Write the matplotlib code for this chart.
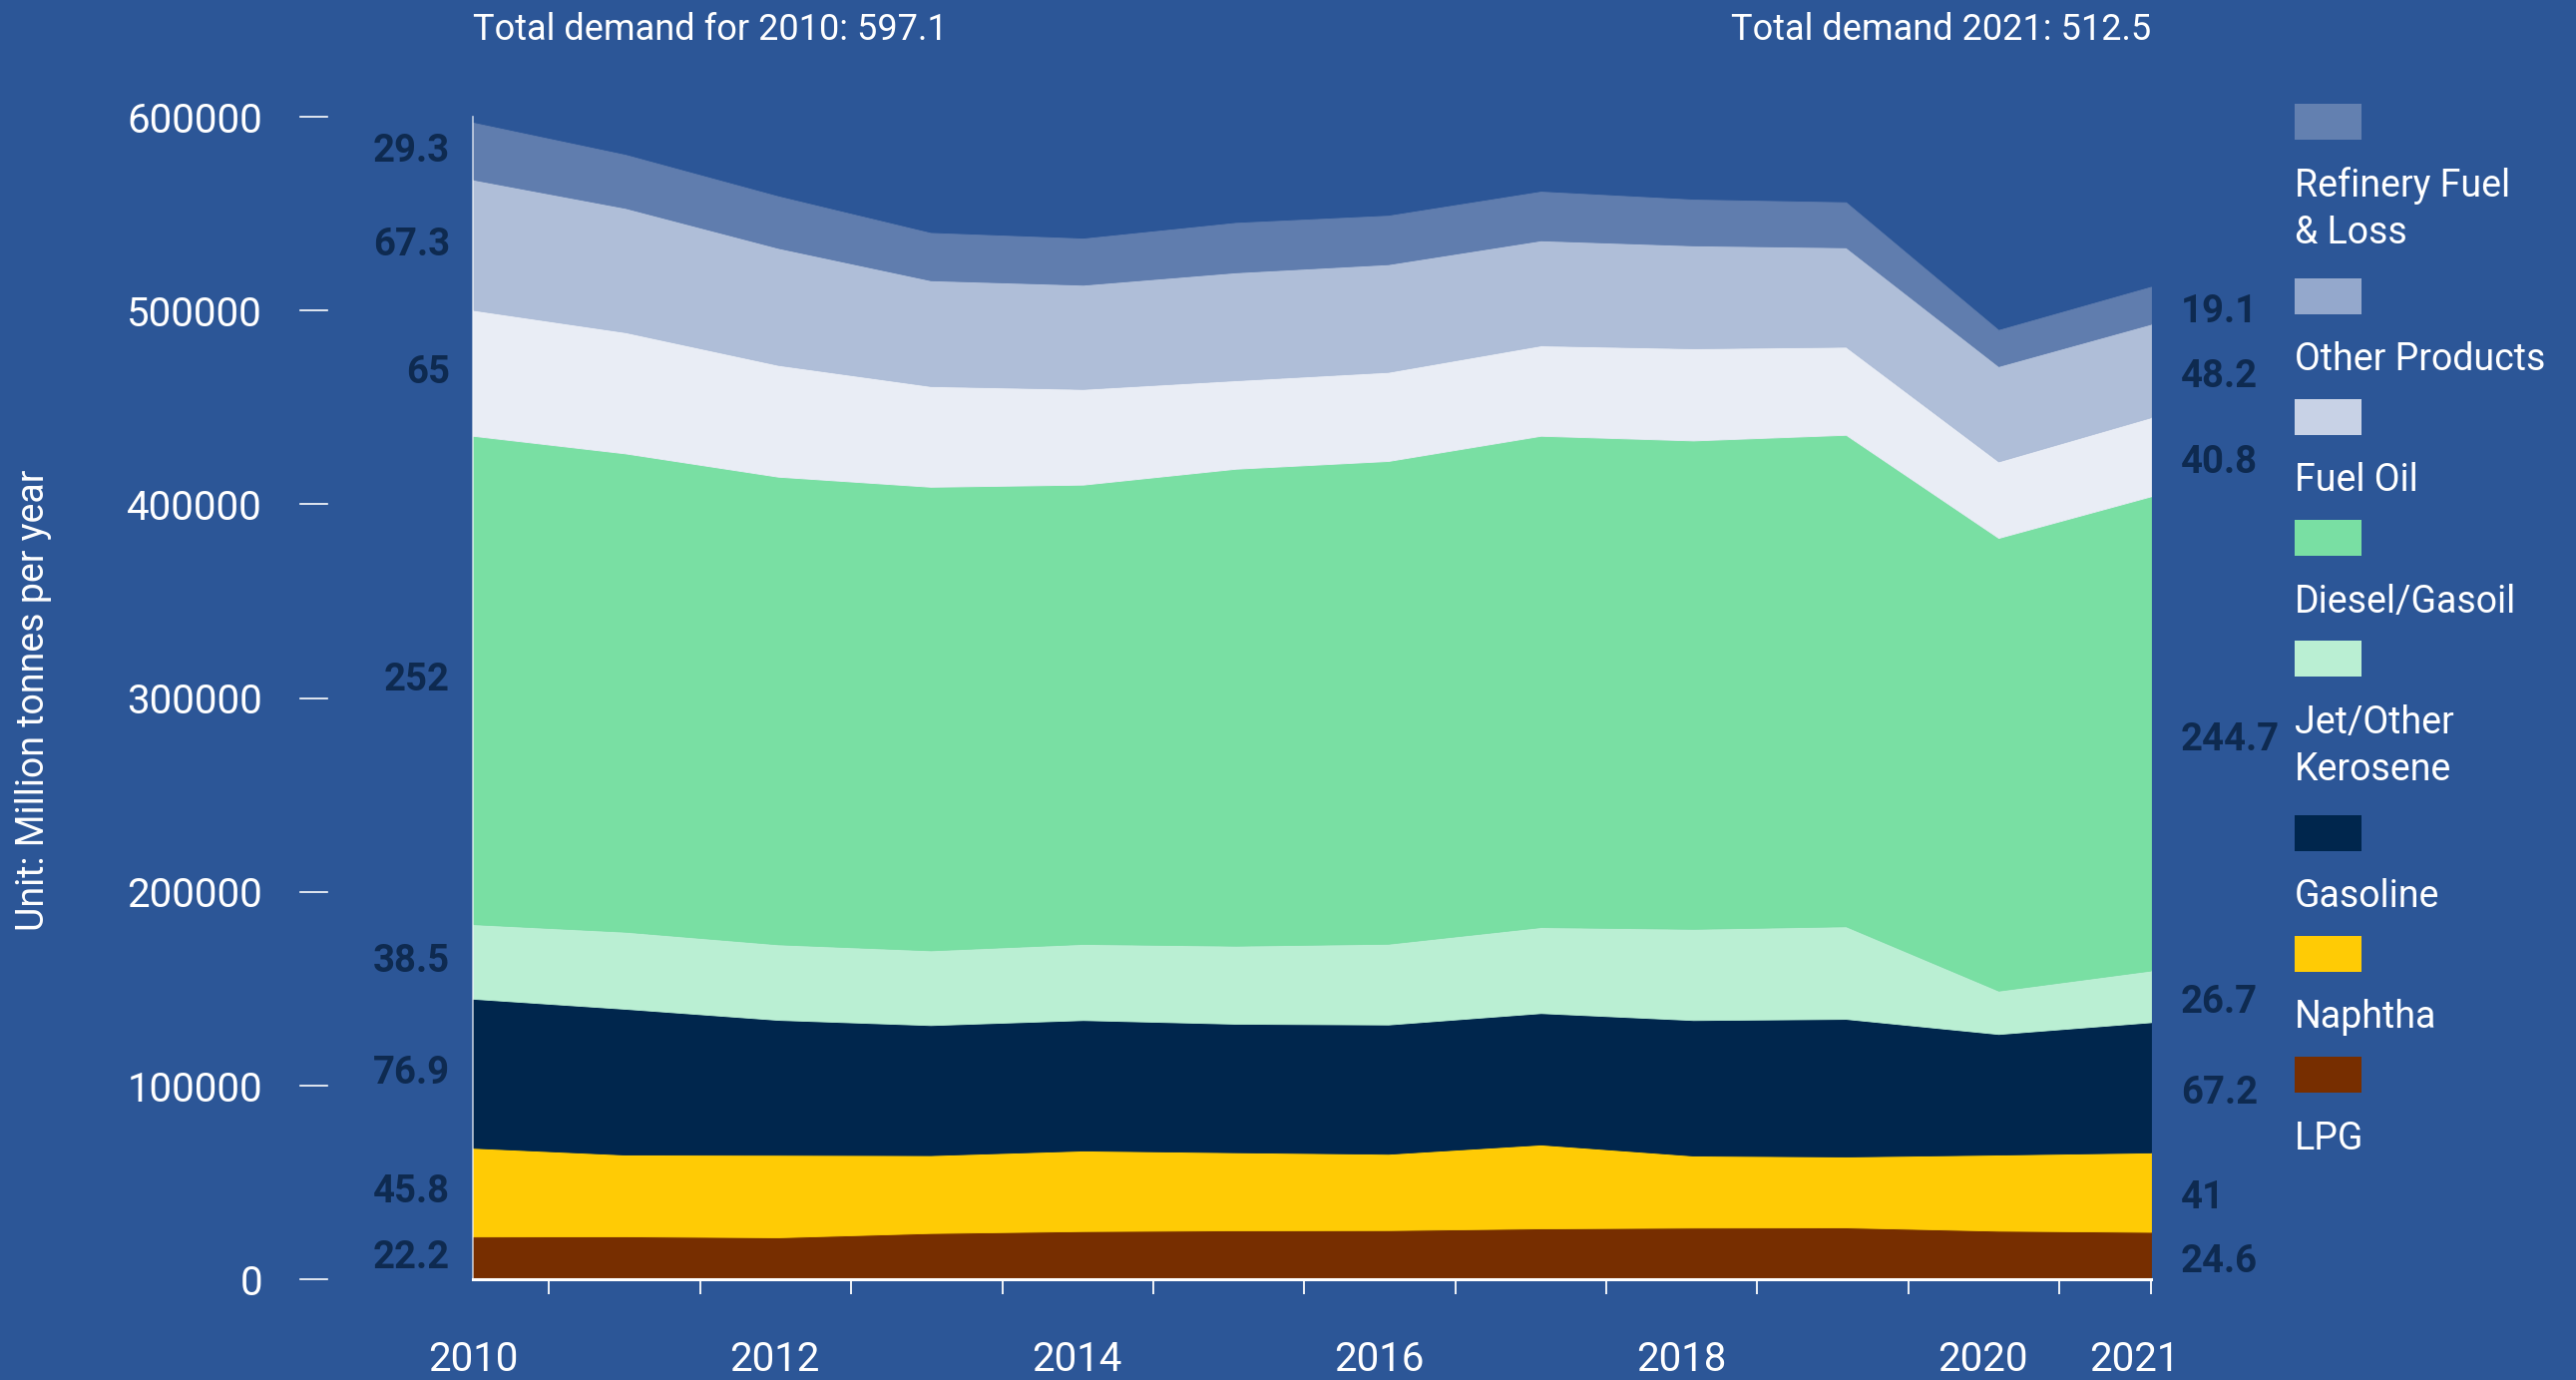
import numpy as np
import matplotlib
matplotlib.use("Agg")
import matplotlib.pyplot as plt
import matplotlib.patches as mpatches
import matplotlib.transforms as mtransforms

plt.rcParams["font.family"] = ["Roboto", "DejaVu Sans"]

# Demand per product, million tonnes
YEARS = [2010, 2011, 2012, 2013, 2014, 2015, 2016, 2017, 2018, 2019, 2020, 2021]
LPG = [22.2, 22.3, 21.8, 24.0, 25.0, 25.4, 25.5, 26.4, 26.8, 26.9, 25.2, 24.6]
NAPHTHA = [45.8, 42.2, 42.6, 40.2, 41.6, 40.3, 39.4, 43.3, 37.2, 36.6, 39.3, 41]
GASOLINE = [76.9, 75.2, 69.6, 67.1, 67.3, 66.3, 66.7, 67.8, 69.9, 71.0, 62.2, 67.2]
JET = [38.5, 39.8, 39.0, 38.6, 39.3, 40.3, 41.7, 44.4, 47.1, 47.8, 22.4, 26.7]
DIESEL = [252, 246.8, 241.3, 239.2, 237.0, 246.1, 249.1, 253.5, 252.0, 253.6, 233.6, 244.7]
FUEL_OIL = [65, 62.6, 57.7, 52.0, 49.4, 45.7, 46.0, 46.7, 47.6, 45.5, 39.5, 40.8]
OTHER = [67.3, 64.1, 60.4, 54.6, 53.8, 55.7, 55.6, 54.2, 53.1, 51.3, 49.2, 48.2]
REFINERY = [29.3, 27.4, 26.6, 24.4, 23.8, 25.5, 25.0, 25.1, 23.6, 23.2, 18.6, 19.1]

SERIES = [LPG, NAPHTHA, GASOLINE, JET, DIESEL, FUEL_OIL, OTHER, REFINERY]
NAMES = ["LPG", "Naphtha", "Gasoline", "Jet/Other\nKerosene", "Diesel/Gasoil",
         "Fuel Oil", "Other Products", "Refinery Fuel\n& Loss"]
COLORS = ["#772e00", "#ffcb05", "#00264d", "#baefd3", "#79dfa3",
          "#e9edf5", "#afbed8", "#607dae"]
LEGEND_COLORS = ["#772e00", "#ffcb05", "#00264d", "#baefd3", "#79dfa3",
                 "#c8d2e6", "#94a8cc", "#6380b0"]

TOTAL_2010 = "Total demand for 2010: 597.1"
TOTAL_2021 = "Total demand 2021: 512.5"
YTICKS = [0, 100000, 200000, 300000, 400000, 500000, 600000]
XLABELS = [2010, 2012, 2014, 2016, 2018, 2020, 2021]

BG = "#2c5697"
LABEL_COLOR = "#0e2a50"
W, H = 2582, 1383
TICK_STEP = 0.99  # the year axis below the chart runs a touch tighter than the data

fig = plt.figure(figsize=(W / 100, H / 100), dpi=100)
fig.patch.set_facecolor(BG)
ax = fig.add_axes([474 / W, 1 - 1282.3 / H, (2156 - 474) / W, (1282.3 - 117.1) / H])
ax.set_facecolor(BG)
ax.set_xlim(YEARS[0], YEARS[-1])
ax.set_ylim(0, 600000)

# stacked areas
bottom = np.zeros(len(YEARS))
mids_first, mids_last = [], []
for vals, c in zip(SERIES, COLORS):
    v = np.array(vals) * 1000
    ax.fill_between(YEARS, bottom, bottom + v, facecolor=c, edgecolor=c, lw=0.6, zorder=2)
    mids_first.append(bottom[0] + v[0] / 2)
    mids_last.append(bottom[-1] + v[-1] / 2)
    bottom = bottom + v

# value labels at both ends
for vals, m0, m1 in zip(SERIES, mids_first, mids_last):
    ax.annotate(f"{vals[0]:g}", xy=(YEARS[0], m0), xytext=(-16.5, 0),
                textcoords="offset points", ha="right", va="center",
                fontsize=27.5, fontweight="bold", color=LABEL_COLOR, annotation_clip=False)
    ax.annotate(f"{vals[-1]:g}", xy=(YEARS[-1], m1), xytext=(21.5, -4.5),
                textcoords="offset points", ha="left", va="center",
                fontsize=27.5, fontweight="bold", color=LABEL_COLOR, annotation_clip=False)

# axes styling
for s in ["top", "right"]:
    ax.spines[s].set_visible(False)
ax.spines["left"].set_color("#ffffff")
ax.spines["left"].set_alpha(0.7)
ax.spines["left"].set_linewidth(1.2)
ax.spines["bottom"].set_color("#ffffff")
ax.spines["bottom"].set_linewidth(2.2)
ax.spines["bottom"].set_zorder(3)

ax.set_yticks(YTICKS)
ax.set_yticklabels([str(t) for t in YTICKS])
ax.tick_params(axis="y", length=0, pad=152, labelsize=29, labelcolor="white")

xpos = [YEARS[0] + (y - YEARS[0]) * TICK_STEP for y in XLABELS]
ax.set_xticks(xpos)
ax.set_xticklabels([str(y) for y in XLABELS])
ax.tick_params(axis="x", which="major", length=0, pad=43.5, labelsize=29, labelcolor="white")
minor = [YEARS[0]] + [YEARS[0] + 0.5 + k * TICK_STEP for k in range(11)] + [YEARS[-1]]
ax.set_xticks(minor, minor=True)
ax.tick_params(axis="x", which="minor", length=11, width=1.3, color="white", direction="out")

# short y tick dashes away from the axis
trans = mtransforms.blended_transform_factory(fig.transFigure, ax.transData)
for t in YTICKS:
    ax.plot([301 / W, 328 / W], [t, t], transform=trans, color="white", lw=1.2, clip_on=False)

fig.text(34 / W, 1 - 702 / H, "Unit: Million tonnes per year", rotation=90,
         ha="center", va="center", fontsize=27, color="white")

fig.text(474 / W, 1 - 30 / H, TOTAL_2010, ha="left", va="center", fontsize=26, color="white")
fig.text(2156 / W, 1 - 30 / H, TOTAL_2021, ha="right", va="center", fontsize=26, color="white")

# legend: swatch above each label, top to bottom
y_top = 104.2
for name, c in zip(NAMES[::-1], LEGEND_COLORS[::-1]):
    fig.patches.append(mpatches.Rectangle((2300 / W, 1 - (y_top + 36) / H), 67 / W, 36 / H,
                                          transform=fig.transFigure, facecolor=c, edgecolor="none"))
    lines = name.split("\n")
    for j, line in enumerate(lines):
        fig.text(2300 / W, 1 - (y_top + 82 + j * 47) / H, line, ha="left", va="center",
                 fontsize=27, color="white")
    y_top += 121.3 + 53 * (len(lines) - 1)

fig.savefig("out.png", dpi=100, facecolor=BG)
